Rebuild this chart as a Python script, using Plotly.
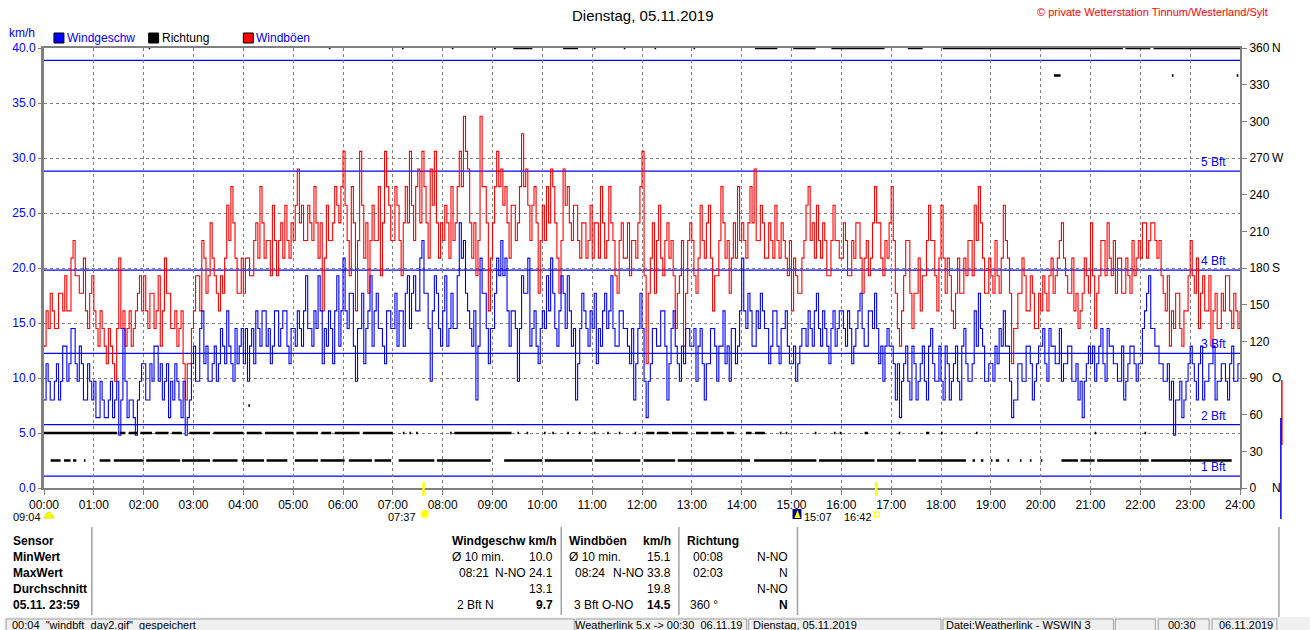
import plotly.graph_objects as go

FONT = "Liberation Sans, Arial, sans-serif"
BLUE = "#0000ff"
RED = "#ff0000"
GRID = "#808080"

# ---------------- data ----------------
hour_labels = ["00:00", "01:00", "02:00", "03:00", "04:00", "05:00", "06:00", "07:00", "08:00",
               "09:00", "10:00", "11:00", "12:00", "13:00", "14:00", "15:00", "16:00", "17:00",
               "18:00", "19:00", "20:00", "21:00", "22:00", "23:00", "24:00"]
hour_minutes = [h * 60 for h in range(25)]

# samples every 2.5 minutes, 00:00 .. 24:00 (24 per hour)
wind_kmh = [
    8.0, 11.3, 9.7, 8.0, 8.0, 9.7, 11.3, 8.0, 9.7, 12.9, 12.9, 9.7, 11.3, 14.5, 14.5, 11.3, 9.7, 12.9, 11.3, 8.0, 8.0, 11.3, 9.7, 8.0,
    9.7, 6.4, 6.4, 9.7, 8.0, 6.4, 6.4, 8.0, 9.7, 6.4, 8.0, 9.7, 4.8, 8.0, 14.5, 9.7, 6.4, 8.0, 8.0, 6.4, 4.8, 8.0, 9.7, 11.3,
    11.3, 8.0, 8.0, 11.3, 9.7, 12.9, 12.9, 9.7, 11.3, 8.0, 9.7, 11.3, 6.4, 9.7, 8.0, 11.3, 9.7, 8.0, 6.4, 9.7, 4.8, 6.4, 8.0, 11.3,
    12.9, 9.7, 9.7, 14.5, 16.1, 11.3, 12.9, 9.7, 9.7, 11.3, 12.9, 9.7, 11.3, 14.5, 12.9, 11.3, 16.1, 12.9, 11.3, 9.7, 14.5, 11.3, 12.9, 14.5,
    11.3, 14.5, 9.7, 12.9, 14.5, 11.3, 16.1, 14.5, 12.9, 16.1, 16.1, 12.9, 14.5, 11.3, 12.9, 16.1, 16.1, 12.9, 14.5, 16.1, 16.1, 12.9, 11.3, 14.5,
    14.5, 12.9, 16.1, 14.5, 12.9, 16.1, 19.3, 14.5, 14.5, 12.9, 16.1, 14.5, 19.3, 16.1, 11.3, 14.5, 12.9, 16.1, 14.5, 11.3, 16.1, 19.3, 12.9, 16.1,
    20.9, 16.1, 14.5, 17.7, 17.7, 12.9, 9.7, 14.5, 14.5, 17.7, 11.3, 14.5, 16.1, 19.3, 12.9, 16.1, 17.7, 14.5, 14.5, 12.9, 11.3, 16.1, 16.1, 14.5,
    14.5, 17.7, 12.9, 16.1, 16.1, 12.9, 17.7, 19.3, 14.5, 17.7, 19.3, 16.1, 16.1, 20.9, 22.5, 17.7, 17.7, 14.5, 9.7, 16.1, 19.3, 17.7, 14.5, 12.9,
    16.1, 19.3, 12.9, 14.5, 17.7, 14.5, 14.5, 19.3, 24.1, 20.9, 22.5, 17.7, 16.1, 14.5, 12.9, 16.1, 8.0, 12.9, 20.9, 17.7, 17.7, 14.5, 11.3, 14.5,
    14.5, 17.7, 20.9, 19.3, 22.5, 19.3, 20.9, 16.1, 12.9, 16.1, 16.1, 14.5, 9.7, 14.5, 19.3, 17.7, 17.7, 20.9, 12.9, 14.5, 16.1, 12.9, 11.3, 14.5,
    16.1, 14.5, 19.3, 16.1, 20.9, 17.7, 14.5, 12.9, 16.1, 19.3, 17.7, 14.5, 19.3, 16.1, 12.9, 14.5, 8.0, 11.3, 14.5, 17.7, 16.1, 14.5, 12.9, 16.1,
    14.5, 17.7, 11.3, 14.5, 12.9, 16.1, 17.7, 14.5, 16.1, 19.3, 14.5, 12.9, 12.9, 16.1, 16.1, 14.5, 14.5, 12.9, 11.3, 14.5, 8.0, 11.3, 14.5, 17.7,
    14.5, 9.7, 6.4, 9.7, 11.3, 14.5, 14.5, 12.9, 12.9, 16.1, 16.1, 12.9, 8.0, 11.3, 14.5, 16.1, 12.9, 11.3, 9.7, 12.9, 11.3, 14.5, 14.5, 12.9,
    12.9, 14.5, 9.7, 12.9, 14.5, 11.3, 8.0, 11.3, 11.3, 14.5, 14.5, 12.9, 9.7, 12.9, 12.9, 16.1, 11.3, 12.9, 9.7, 14.5, 14.5, 11.3, 12.9, 16.1,
    20.9, 16.1, 14.5, 17.7, 16.1, 12.9, 12.9, 16.1, 14.5, 17.7, 16.1, 14.5, 14.5, 11.3, 12.9, 16.1, 16.1, 12.9, 11.3, 14.5, 14.5, 16.1, 12.9, 11.3,
    11.3, 12.9, 9.7, 11.3, 12.9, 14.5, 14.5, 12.9, 16.1, 14.5, 12.9, 16.1, 17.7, 14.5, 12.9, 16.1, 14.5, 12.9, 11.3, 14.5, 16.1, 12.9, 14.5, 16.1,
    16.1, 14.5, 12.9, 16.1, 14.5, 11.3, 12.9, 14.5, 16.1, 17.7, 14.5, 12.9, 12.9, 16.1, 16.1, 14.5, 17.7, 14.5, 11.3, 12.9, 9.7, 12.9, 14.5, 12.9,
    12.9, 11.3, 8.0, 11.3, 6.4, 9.7, 11.3, 12.9, 9.7, 8.0, 12.9, 11.3, 8.0, 9.7, 11.3, 12.9, 9.7, 8.0, 12.9, 14.5, 11.3, 9.7, 9.7, 12.9,
    9.7, 8.0, 12.9, 11.3, 8.0, 9.7, 11.3, 12.9, 9.7, 8.0, 12.9, 14.5, 11.3, 9.7, 9.7, 11.3, 16.1, 12.9, 17.7, 14.5, 12.9, 9.7, 9.7, 11.3,
    11.3, 9.7, 12.9, 11.3, 14.5, 12.9, 16.1, 12.9, 12.9, 9.7, 6.4, 8.0, 8.0, 11.3, 11.3, 9.7, 9.7, 12.9, 12.9, 11.3, 8.0, 9.7, 11.3, 12.9,
    12.9, 14.5, 11.3, 9.7, 14.5, 12.9, 12.9, 11.3, 11.3, 14.5, 9.7, 11.3, 11.3, 12.9, 12.9, 9.7, 9.7, 11.3, 8.0, 9.7, 6.4, 9.7, 11.3, 12.9,
    11.3, 12.9, 9.7, 11.3, 12.9, 14.5, 11.3, 9.7, 14.5, 12.9, 12.9, 11.3, 11.3, 9.7, 9.7, 12.9, 8.0, 9.7, 11.3, 12.9, 12.9, 11.3, 9.7, 11.3,
    11.3, 14.5, 16.1, 17.7, 19.3, 14.5, 14.5, 12.9, 12.9, 11.3, 11.3, 9.7, 9.7, 11.3, 8.0, 9.7, 4.8, 8.0, 8.0, 9.7, 6.4, 8.0, 9.7, 11.3,
    12.9, 11.3, 9.7, 8.0, 11.3, 12.9, 8.0, 9.7, 9.7, 11.3, 11.3, 12.9, 8.0, 9.7, 9.7, 11.3, 11.3, 9.7, 8.0, 11.3, 12.9, 9.7, 9.7, 11.3,
    11.3,
]

gust_kmh = [
    12.9, 16.1, 14.5, 17.7, 16.1, 14.5, 14.5, 17.7, 17.7, 16.1, 19.3, 16.1, 16.1, 20.9, 22.5, 19.3, 19.3, 17.7, 17.7, 20.9, 16.1, 14.5, 17.7, 19.3,
    16.1, 14.5, 12.9, 16.1, 14.5, 12.9, 11.3, 14.5, 12.9, 11.3, 9.7, 14.5, 20.9, 14.5, 16.1, 12.9, 14.5, 16.1, 12.9, 14.5, 16.1, 17.7, 19.3, 16.1,
    19.3, 16.1, 14.5, 17.7, 17.7, 14.5, 16.1, 19.3, 12.9, 16.1, 20.9, 17.7, 17.7, 14.5, 14.5, 16.1, 12.9, 14.5, 16.1, 11.3, 8.0, 11.3, 11.3, 14.5,
    16.1, 19.3, 19.3, 16.1, 22.5, 20.9, 17.7, 19.3, 24.1, 20.9, 19.3, 17.7, 16.1, 19.3, 17.7, 20.9, 25.7, 22.5, 27.4, 24.1, 20.9, 17.7, 17.7, 20.9,
    17.7, 20.9, 20.9, 19.3, 19.3, 22.5, 24.1, 20.9, 27.4, 24.1, 20.9, 22.5, 22.5, 19.3, 25.7, 22.5, 19.3, 22.5, 24.1, 20.9, 25.7, 22.5, 20.9, 24.1,
    22.5, 25.7, 29.0, 24.1, 25.7, 22.5, 22.5, 25.7, 24.1, 22.5, 27.4, 24.1, 20.9, 24.1, 16.1, 20.9, 25.7, 22.5, 22.5, 24.1, 27.4, 25.7, 24.1, 27.4,
    30.6, 25.7, 22.5, 19.3, 27.4, 24.1, 16.1, 22.5, 30.6, 25.7, 20.9, 24.1, 17.7, 22.5, 25.7, 22.5, 22.5, 27.4, 19.3, 24.1, 30.6, 27.4, 25.7, 22.5,
    22.5, 27.4, 25.7, 22.5, 19.3, 24.1, 27.4, 24.1, 30.6, 25.7, 22.5, 27.4, 29.0, 24.1, 30.6, 27.4, 24.1, 20.9, 29.0, 25.7, 30.6, 24.1, 20.9, 24.1,
    22.5, 25.7, 24.1, 20.9, 27.4, 22.5, 24.1, 27.4, 30.6, 27.4, 33.8, 30.6, 29.0, 24.1, 20.9, 24.1, 19.3, 22.5, 33.8, 27.4, 27.4, 24.1, 16.1, 20.9,
    24.1, 27.4, 30.6, 27.4, 29.0, 25.7, 27.4, 24.1, 20.9, 25.7, 25.7, 22.5, 24.1, 27.4, 32.2, 27.4, 29.0, 25.7, 22.5, 25.7, 27.4, 24.1, 17.7, 22.5,
    25.7, 22.5, 27.4, 24.1, 29.0, 27.4, 24.1, 20.9, 17.7, 22.5, 29.0, 25.7, 27.4, 24.1, 22.5, 25.7, 25.7, 22.5, 20.9, 24.1, 24.1, 20.9, 22.5, 25.7,
    20.9, 24.1, 24.1, 20.9, 27.4, 24.1, 20.9, 22.5, 27.4, 24.1, 22.5, 19.3, 17.7, 22.5, 24.1, 20.9, 20.9, 24.1, 19.3, 22.5, 22.5, 20.9, 24.1, 27.4,
    30.6, 19.3, 11.3, 17.7, 20.9, 24.1, 17.7, 22.5, 25.7, 20.9, 19.3, 22.5, 24.1, 20.9, 22.5, 19.3, 14.5, 17.7, 19.3, 22.5, 12.9, 17.7, 22.5, 24.1,
    22.5, 19.3, 17.7, 20.9, 25.7, 22.5, 20.9, 24.1, 25.7, 20.9, 16.1, 19.3, 19.3, 22.5, 27.4, 24.1, 20.9, 22.5, 17.7, 20.9, 24.1, 20.9, 27.4, 22.5,
    24.1, 22.5, 20.9, 24.1, 27.4, 24.1, 29.0, 22.5, 22.5, 25.7, 24.1, 20.9, 20.9, 24.1, 22.5, 20.9, 25.7, 22.5, 20.9, 24.1, 22.5, 20.9, 19.3, 22.5,
    16.1, 20.9, 19.3, 17.7, 17.7, 20.9, 22.5, 25.7, 27.4, 22.5, 24.1, 20.9, 25.7, 22.5, 20.9, 24.1, 22.5, 19.3, 19.3, 22.5, 25.7, 22.5, 22.5, 20.9,
    20.9, 24.1, 22.5, 19.3, 19.3, 22.5, 20.9, 24.1, 24.1, 20.9, 17.7, 20.9, 22.5, 19.3, 20.9, 24.1, 27.4, 24.1, 24.1, 20.9, 19.3, 22.5, 20.9, 24.1,
    27.4, 22.5, 17.7, 14.5, 12.9, 16.1, 19.3, 22.5, 22.5, 17.7, 14.5, 17.7, 17.7, 20.9, 16.1, 19.3, 19.3, 22.5, 25.7, 22.5, 22.5, 19.3, 16.1, 20.9,
    25.7, 20.9, 17.7, 20.9, 19.3, 16.1, 14.5, 17.7, 20.9, 17.7, 17.7, 20.9, 19.3, 22.5, 22.5, 19.3, 25.7, 22.5, 27.4, 24.1, 20.9, 17.7, 17.7, 20.9,
    19.3, 17.7, 22.5, 19.3, 17.7, 20.9, 25.7, 22.5, 20.9, 17.7, 11.3, 14.5, 14.5, 17.7, 17.7, 20.9, 19.3, 16.1, 16.1, 19.3, 17.7, 14.5, 14.5, 17.7,
    16.1, 19.3, 17.7, 16.1, 19.3, 20.9, 17.7, 19.3, 20.9, 22.5, 24.1, 20.9, 19.3, 17.7, 17.7, 20.9, 16.1, 17.7, 14.5, 16.1, 17.7, 20.9, 19.3, 17.7,
    24.1, 19.3, 14.5, 17.7, 19.3, 22.5, 22.5, 19.3, 24.1, 20.9, 19.3, 22.5, 17.7, 20.9, 20.9, 17.7, 17.7, 20.9, 19.3, 17.7, 22.5, 19.3, 20.9, 22.5,
    20.9, 24.1, 24.1, 20.9, 22.5, 24.1, 24.1, 22.5, 20.9, 22.5, 19.3, 17.7, 16.1, 19.3, 12.9, 16.1, 14.5, 17.7, 17.7, 14.5, 12.9, 16.1, 16.1, 19.3,
    22.5, 19.3, 17.7, 20.9, 14.5, 17.7, 19.3, 16.1, 16.1, 19.3, 12.9, 16.1, 17.7, 14.5, 14.5, 17.7, 16.1, 19.3, 19.3, 16.1, 14.5, 17.7, 16.1, 14.5,
    16.1,
]

# wind direction runs (minute from, minute to, degrees)
dir_start = [0, 91, 102, 116, 134, 154, 175, 204, 244, 266, 304, 334, 350, 384, 432, 440, 448, 489, 494,
             570, 581, 602, 612, 630, 644, 662, 678, 692, 711, 725, 738, 756, 785, 803, 822, 845, 856, 886,
             893, 928, 951, 958, 988, 1029, 1062, 1080, 1122, 1265, 1325,
             8, 24, 35, 48, 67, 84, 123, 166, 203, 238, 268, 302, 333, 367, 398, 427, 473, 554, 603, 663,
             722, 763, 855, 933, 1003, 1053, 1118, 1128, 1140, 1146, 1160, 1175, 1187, 1200, 1225, 1248,
             1268, 1333,
             126, 343, 431, 491, 542, 565, 625, 662, 698, 735, 782, 856, 902, 948, 1040, 1082, 1302, 1336,
             1216, 1358, 1436,
             246]
dir_end = [88, 98, 112, 130, 150, 166, 200, 240, 262, 300, 330, 346, 380, 420, 434, 442, 450, 491, 563,
           572, 583, 604, 614, 632, 646, 664, 680, 694, 713, 735, 752, 775, 800, 818, 831, 852, 868, 888,
           895, 930, 953, 960, 992, 1031, 1066, 1082, 1124, 1267, 1327,
           20, 32, 39, 50, 80, 120, 164, 200, 233, 265, 293, 330, 362, 395, 418, 470, 538, 600, 660, 718,
           760, 850, 930, 1000, 1050, 1110, 1121, 1131, 1142, 1150, 1162, 1177, 1189, 1202, 1245, 1265,
           1330, 1430,
           128, 345, 433, 493, 544, 588, 643, 664, 700, 737, 784, 883, 929, 1012, 1058, 1299, 1332, 1440,
           1224, 1360, 1438,
           248]
dir_deg = [45] * 49 + [22.5] * 38 + [360] * 18 + [337.5] * 3 + [67.5]

# Beaufort thresholds (km/h) and labels
bft_kmh = [1.08, 5.76, 12.24, 19.8, 28.8, 38.88]
bft_labels = ["1 Bft", "2 Bft", "3 Bft", "4 Bft", "5 Bft", ""]

dir_ticks = [0, 30, 60, 90, 120, 150, 180, 210, 240, 270, 300, 330, 360]
dir_tick_text = ["0", "30", "60", "90", "120", "150", "180", "210", "240", "270", "300", "330", "360"]
dir_letters = {0: "N", 90: "O", 180: "S", 270: "W", 360: "N"}

sunrise_min = 7 * 60 + 37
sunset_min = 16 * 60 + 42

table_rows = ["Sensor", "MinWert", "MaxWert", "Durchschnitt", "05.11. 23:59"]

wind_minutes = [i * 2.5 for i in range(len(wind_kmh))]
gust_minutes = [i * 2.5 for i in range(len(gust_kmh))]

# ---------------- figure ----------------
W, H = 1310, 630
L, R, T, B = 40, 1240, 48, 488


def px(x):
    return (x - L) / (R - L)


def py(y):
    return (B - y) / (B - T)


fig = go.Figure()

# direction runs
dx, dy = [], []
for s, e, d in zip(dir_start, dir_end, dir_deg):
    dx += [s, max(e, s + 2), None]
    dy += [d, d, None]
fig.add_trace(go.Scatter(x=dx, y=dy, yaxis="y2", mode="lines",
                         line=dict(color="black", width=2.5), hoverinfo="skip"))

fig.add_trace(go.Scatter(x=gust_minutes, y=gust_kmh, mode="lines", line_shape="hv",
                         line=dict(color=RED, width=1.1), name="Windböen"))
fig.add_trace(go.Scatter(x=wind_minutes, y=wind_kmh, mode="lines", line_shape="hv",
                         line=dict(color=BLUE, width=1.1), name="Windgeschw"))

shapes = []
annotations = []

# Beaufort lines
for v, lab in zip(bft_kmh, bft_labels):
    shapes.append(dict(type="line", xref="paper", yref="y", x0=0, x1=1, y0=v, y1=v,
                       line=dict(color=BLUE, width=1.2), layer="between"))
    if lab:
        annotations.append(dict(xref="paper", yref="y", x=px(1228), y=v, yshift=9,
                                xanchor="right", yanchor="middle", text=lab, showarrow=False,
                                font=dict(family=FONT, size=12, color=BLUE)))

# direction letters on right axis
for deg, letter in dir_letters.items():
    annotations.append(dict(xref="paper", yref="y2", x=px(1270), y=deg, xanchor="left",
                            yanchor="middle", text=letter, showarrow=False,
                            font=dict(family=FONT, size=12, color="black")))

# sunrise / sunset ticks
for m in (sunrise_min, sunset_min):
    shapes.append(dict(type="line", xref="x", yref="paper", x0=m, x1=m, y0=py(482), y1=py(496),
                       line=dict(color="#ffff00", width=2.5), layer="above"))


def txt(x, y, s, anchor="left", color="black", size=12, bold=False, yanchor="middle"):
    annotations.append(dict(xref="paper", yref="paper", x=px(x), y=py(y), xanchor=anchor,
                            yanchor=yanchor, text=("<b>%s</b>" % s) if bold else s,
                            showarrow=False, borderpad=0,
                            font=dict(family=FONT, size=size, color=color)))


# header
txt(641, 15, "Dienstag, 05.11.2019", anchor="center", size=15)
txt(1269, 12, "© private Wetterstation Tinnum/Westerland/Sylt", anchor="right", color=RED, size=11)
txt(4, 33, "km/h", color=BLUE)
legend = [(50, BLUE, "Windgeschw", BLUE), (145, "black", "Richtung", "black"), (240, RED, "Windböen", BLUE)]
for x0, c, lab, tc in legend:
    shapes.append(dict(type="rect", xref="paper", yref="paper", x0=px(x0), x1=px(x0 + 10),
                       y0=py(43), y1=py(33), fillcolor=c, line=dict(color="black", width=1)))
    txt(x0 + 12, 38, lab, color=tc)

# sun / moon events under axis
EV_Y = 516.5
txt(38, EV_Y, "09:04", anchor="right", size=11)
shapes.append(dict(type="path", xref="paper", yref="paper",
                   path="M %f %f Q %f %f %f %f Z" % (px(40), py(518), px(45), py(506), px(50), py(518)),
                   fillcolor="#ffff00", line=dict(color="#e0e000", width=1)))
txt(414, EV_Y, "07:37", anchor="right", size=11)
shapes.append(dict(type="circle", xref="paper", yref="paper", x0=px(418), x1=px(426),
                   y0=py(518), y1=py(510), fillcolor="#ffff00", line=dict(color="#ffff80", width=1.5)))
shapes.append(dict(type="rect", xref="paper", yref="paper", x0=px(791), x1=px(800),
                   y0=py(519), y1=py(509), fillcolor="#000080", line=dict(width=0)))
shapes.append(dict(type="path", xref="paper", yref="paper",
                   path="M %f %f L %f %f L %f %f Z" % (px(793), py(518), px(796), py(510), px(799), py(518)),
                   fillcolor="#ffff00", line=dict(width=0)))
txt(802, EV_Y, "15:07", size=11)
txt(842, EV_Y, "16:42", size=11)
shapes.append(dict(type="rect", xref="paper", yref="paper", x0=px(873), x1=px(878),
                   y0=py(517), y1=py(512), fillcolor="white", line=dict(color="#ffff00", width=1.2)))

# table
row_y = [541, 557, 573, 589, 605]
for y, lab in zip(row_y, table_rows):
    txt(8, y, lab, bold=True)

txt(448, row_y[0], "Windgeschw km/h", bold=True)
txt(448, row_y[1], "Ø 10 min.")
txt(552, row_y[1], "10.0", anchor="right")
txt(455, row_y[2], "08:21")
txt(552, row_y[2], "N-NO 24.1", anchor="right")
txt(552, row_y[3], "13.1", anchor="right")
txt(453, row_y[4], "2 Bft N")
txt(552, row_y[4], "9.7", anchor="right", bold=True)

txt(566, row_y[0], "Windböen", bold=True)
txt(670, row_y[0], "km/h", anchor="right", bold=True)
txt(566, row_y[1], "Ø 10 min.")
txt(670, row_y[1], "15.1", anchor="right")
txt(572, row_y[2], "08:24")
txt(670, row_y[2], "N-NO 33.8", anchor="right")
txt(670, row_y[3], "19.8", anchor="right")
txt(571, row_y[4], "3 Bft O-NO")
txt(670, row_y[4], "14.5", anchor="right", bold=True)

txt(684, row_y[0], "Richtung", bold=True)
txt(690, row_y[1], "00:08")
txt(787, row_y[1], "N-NO", anchor="right")
txt(690, row_y[2], "02:03")
txt(787, row_y[2], "N", anchor="right")
txt(787, row_y[3], "N-NO", anchor="right")
txt(687, row_y[4], "360 °")
txt(787, row_y[4], "N", anchor="right", bold=True)

for x in (88, 559, 677, 796):
    shapes.append(dict(type="line", xref="paper", yref="paper", x0=px(x), x1=px(x),
                       y0=py(527), y1=py(615), line=dict(color="#a0a0a0", width=1.5)))
shapes.append(dict(type="line", xref="paper", yref="paper", x0=px(1279), x1=px(1279),
                   y0=py(527), y1=py(630), line=dict(color="#a0a0a0", width=1.5)))

# small scroll preview at right edge
shapes.append(dict(type="line", xref="paper", yref="paper", x0=px(1282), x1=px(1282),
                   y0=py(380), y1=py(445), line=dict(color=RED, width=1.5)))
shapes.append(dict(type="line", xref="paper", yref="paper", x0=px(1281), x1=px(1281),
                   y0=py(418), y1=py(519), line=dict(color=BLUE, width=1.5)))

# status bar
shapes.append(dict(type="rect", xref="paper", yref="paper", x0=px(0), x1=px(1310),
                   y0=py(617), y1=py(632), fillcolor="#f0f0f0", line=dict(width=0)))
for a, b in [(2, 572), (574, 745), (747, 940), (942, 1113), (1115, 1155), (1158, 1209), (1212, 1277)]:
    shapes.append(dict(type="rect", xref="paper", yref="paper", x0=px(a), x1=px(b),
                       y0=py(619), y1=py(634), fillcolor="rgba(0,0,0,0)",
                       line=dict(color="#a0a0a0", width=1)))
SB = 624.5
txt(7, SB, '00:04  "windbft_day2.gif"  gespeichert', size=11)
txt(741, SB, "Weatherlink 5.x -> 00:30  06.11.19", anchor="right", size=11)
txt(750, SB, "Dienstag, 05.11.2019", size=11)
txt(944, SB, "Datei:Weatherlink - WSWIN 3", size=11)
txt(1182, SB, "00:30", anchor="center", size=11)
txt(1218, SB, "06.11.2019", size=11)

fig.update_layout(
    width=W, height=H, autosize=False,
    margin=dict(l=L, r=W - R, t=T, b=H - B, pad=0),
    paper_bgcolor="white", plot_bgcolor="white",
    showlegend=False,
    font=dict(family=FONT, size=12, color="black"),
    xaxis=dict(range=[0, 1440], tickvals=hour_minutes, ticktext=hour_labels,
               showgrid=True, gridcolor=GRID, griddash="3px,3px", gridwidth=1,
               showline=True, linecolor=GRID, linewidth=2, mirror=True,
               ticks="outside", ticklen=5, tickcolor=GRID, zeroline=False,
               tickfont=dict(family=FONT, size=12, color="black")),
    yaxis=dict(range=[0, 40], dtick=5, tick0=0, tickformat=".1f",
               showgrid=True, gridcolor=GRID, griddash="3px,3px", gridwidth=1,
               showline=True, linecolor=GRID, linewidth=3,
               ticks="outside", ticklen=3, tickcolor=GRID, zeroline=False,
               tickfont=dict(family=FONT, size=12, color=BLUE)),
    yaxis2=dict(range=[0, 360], overlaying="y", side="right", tickvals=dir_ticks,
                ticktext=dir_tick_text, showgrid=False, zeroline=False,
                showline=True, linecolor=GRID, linewidth=2,
                ticks="outside", ticklen=5, tickcolor=GRID,
                tickfont=dict(family=FONT, size=12, color="black")),
    shapes=shapes,
    annotations=annotations,
)

fig.write_html("out.html", config={"displayModeBar": False},
               post_script="document.body.style.margin='0px';document.body.style.overflow='hidden';")
